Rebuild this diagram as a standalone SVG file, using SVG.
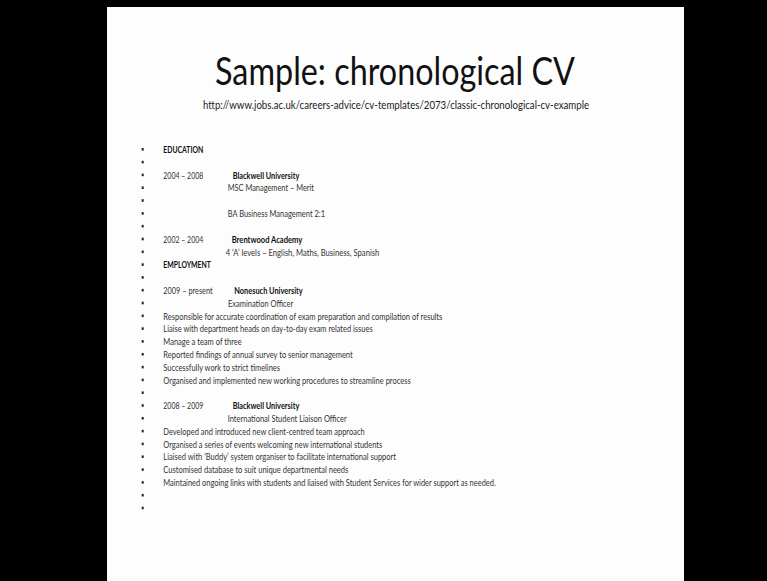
<svg xmlns="http://www.w3.org/2000/svg" xmlns:xlink="http://www.w3.org/1999/xlink" width="767" height="581" viewBox="0 0 767 581">
<style>
.bar{fill:#000}
.slide{fill:#fdfdfd}
.title{font-family:Lato,"Open Sans","Liberation Sans",sans-serif;font-size:39px;fill:#111}
.url{font-family:Lato,"Open Sans","Liberation Sans",sans-serif;font-size:11.5px;fill:#222}
.t{font-family:Lato,"Open Sans","Liberation Sans",sans-serif;font-size:10.3px;fill:#333}
.b{font-weight:bold;fill:#111}
.dot{fill:#222}
</style>
<defs>
<rect id="bul" class="dot" x="-1" y="-1.3" width="2" height="2.6"/>
</defs>
<rect class="bar" x="0" y="0" width="767" height="581"/>
<rect class="slide" x="107" y="7" width="577" height="574"/>
<g id="header">
<text class="title" x="215" y="84.5" textLength="360" lengthAdjust="spacingAndGlyphs">Sample: chronological CV</text>
<text class="url" x="203" y="109" textLength="386" lengthAdjust="spacingAndGlyphs">http://www.jobs.ac.uk/careers-advice/cv-templates/2073/classic-chronological-cv-example</text>
</g>
<g id="bullets">
<use xlink:href="#bul" x="142.7" y="149.3"/>
<use xlink:href="#bul" x="142.7" y="162.1"/>
<use xlink:href="#bul" x="142.7" y="174.9"/>
<use xlink:href="#bul" x="142.7" y="187.7"/>
<use xlink:href="#bul" x="142.7" y="200.5"/>
<use xlink:href="#bul" x="142.7" y="213.4"/>
<use xlink:href="#bul" x="142.7" y="226.2"/>
<use xlink:href="#bul" x="142.7" y="239.0"/>
<use xlink:href="#bul" x="142.7" y="251.8"/>
<use xlink:href="#bul" x="142.7" y="264.6"/>
<use xlink:href="#bul" x="142.7" y="277.4"/>
<use xlink:href="#bul" x="142.7" y="290.2"/>
<use xlink:href="#bul" x="142.7" y="303.0"/>
<use xlink:href="#bul" x="142.7" y="315.8"/>
<use xlink:href="#bul" x="142.7" y="328.6"/>
<use xlink:href="#bul" x="142.7" y="341.4"/>
<use xlink:href="#bul" x="142.7" y="354.3"/>
<use xlink:href="#bul" x="142.7" y="367.1"/>
<use xlink:href="#bul" x="142.7" y="379.9"/>
<use xlink:href="#bul" x="142.7" y="392.7"/>
<use xlink:href="#bul" x="142.7" y="405.5"/>
<use xlink:href="#bul" x="142.7" y="418.3"/>
<use xlink:href="#bul" x="142.7" y="431.1"/>
<use xlink:href="#bul" x="142.7" y="443.9"/>
<use xlink:href="#bul" x="142.7" y="456.7"/>
<use xlink:href="#bul" x="142.7" y="469.6"/>
<use xlink:href="#bul" x="142.7" y="482.4"/>
<use xlink:href="#bul" x="142.7" y="495.2"/>
<use xlink:href="#bul" x="142.7" y="508.0"/>
</g>
<g id="education">
<text class="t b" x="163.3" y="153" textLength="40" lengthAdjust="spacingAndGlyphs">EDUCATION</text>
<text class="t" x="163.3" y="178.6" textLength="40" lengthAdjust="spacingAndGlyphs">2004 – 2008</text>
<text class="t b" x="232.7" y="178.6" textLength="66.6" lengthAdjust="spacingAndGlyphs">Blackwell University</text>
<text class="t" x="227.7" y="191.4" textLength="86.3" lengthAdjust="spacingAndGlyphs">MSC Management – Merit</text>
<text class="t" x="227.7" y="217.1" textLength="97.3" lengthAdjust="spacingAndGlyphs">BA Business Management 2:1</text>
<text class="t" x="163.3" y="242.7" textLength="40" lengthAdjust="spacingAndGlyphs">2002 – 2004</text>
<text class="t b" x="231.7" y="242.7" textLength="70.6" lengthAdjust="spacingAndGlyphs">Brentwood Academy</text>
<text class="t" x="225.7" y="255.5" textLength="153.6" lengthAdjust="spacingAndGlyphs">4 ‘A’ levels – English, Maths, Business, Spanish</text>
</g>
<g id="employment">
<text class="t b" x="163.3" y="268.3" textLength="47.7" lengthAdjust="spacingAndGlyphs">EMPLOYMENT</text>
<text class="t" x="163.3" y="293.9" textLength="49.4" lengthAdjust="spacingAndGlyphs">2009 – present</text>
<text class="t b" x="234.3" y="293.9" textLength="68.4" lengthAdjust="spacingAndGlyphs">Nonesuch University</text>
<text class="t" x="228" y="306.7" textLength="65.3" lengthAdjust="spacingAndGlyphs">Examination Officer</text>
<text class="t" x="163.3" y="319.5" textLength="279" lengthAdjust="spacingAndGlyphs">Responsible for accurate coordination of exam preparation and compilation of results</text>
<text class="t" x="163.3" y="332.3" textLength="209.4" lengthAdjust="spacingAndGlyphs">Liaise with department heads on day-to-day exam related issues</text>
<text class="t" x="163.3" y="345.1" textLength="78.4" lengthAdjust="spacingAndGlyphs">Manage a team of three</text>
<text class="t" x="163.3" y="358" textLength="189.4" lengthAdjust="spacingAndGlyphs">Reported findings of annual survey to senior management</text>
<text class="t" x="163.3" y="370.8" textLength="116.7" lengthAdjust="spacingAndGlyphs">Successfully work to strict timelines</text>
<text class="t" x="163.3" y="383.6" textLength="247.4" lengthAdjust="spacingAndGlyphs">Organised and implemented new working procedures to streamline process</text>
</g>
<g id="job2">
<text class="t" x="163.3" y="409.2" textLength="40" lengthAdjust="spacingAndGlyphs">2008 – 2009</text>
<text class="t b" x="232.7" y="409.2" textLength="66.6" lengthAdjust="spacingAndGlyphs">Blackwell University</text>
<text class="t" x="227.7" y="422" textLength="119" lengthAdjust="spacingAndGlyphs">International Student Liaison Officer</text>
<text class="t" x="163.3" y="434.8" textLength="201.4" lengthAdjust="spacingAndGlyphs">Developed and introduced new client-centred team approach</text>
<text class="t" x="163.3" y="447.6" textLength="219" lengthAdjust="spacingAndGlyphs">Organised a series of events welcoming new international students</text>
<text class="t" x="163.3" y="460.4" textLength="232.7" lengthAdjust="spacingAndGlyphs">Liaised with ‘Buddy’ system organiser to facilitate international support</text>
<text class="t" x="163.3" y="473.3" textLength="185" lengthAdjust="spacingAndGlyphs">Customised database to suit unique departmental needs</text>
<text class="t" x="163.3" y="486.1" textLength="332.4" lengthAdjust="spacingAndGlyphs">Maintained ongoing links with students and liaised with Student Services for wider support as needed.</text>
</g>
</svg>
